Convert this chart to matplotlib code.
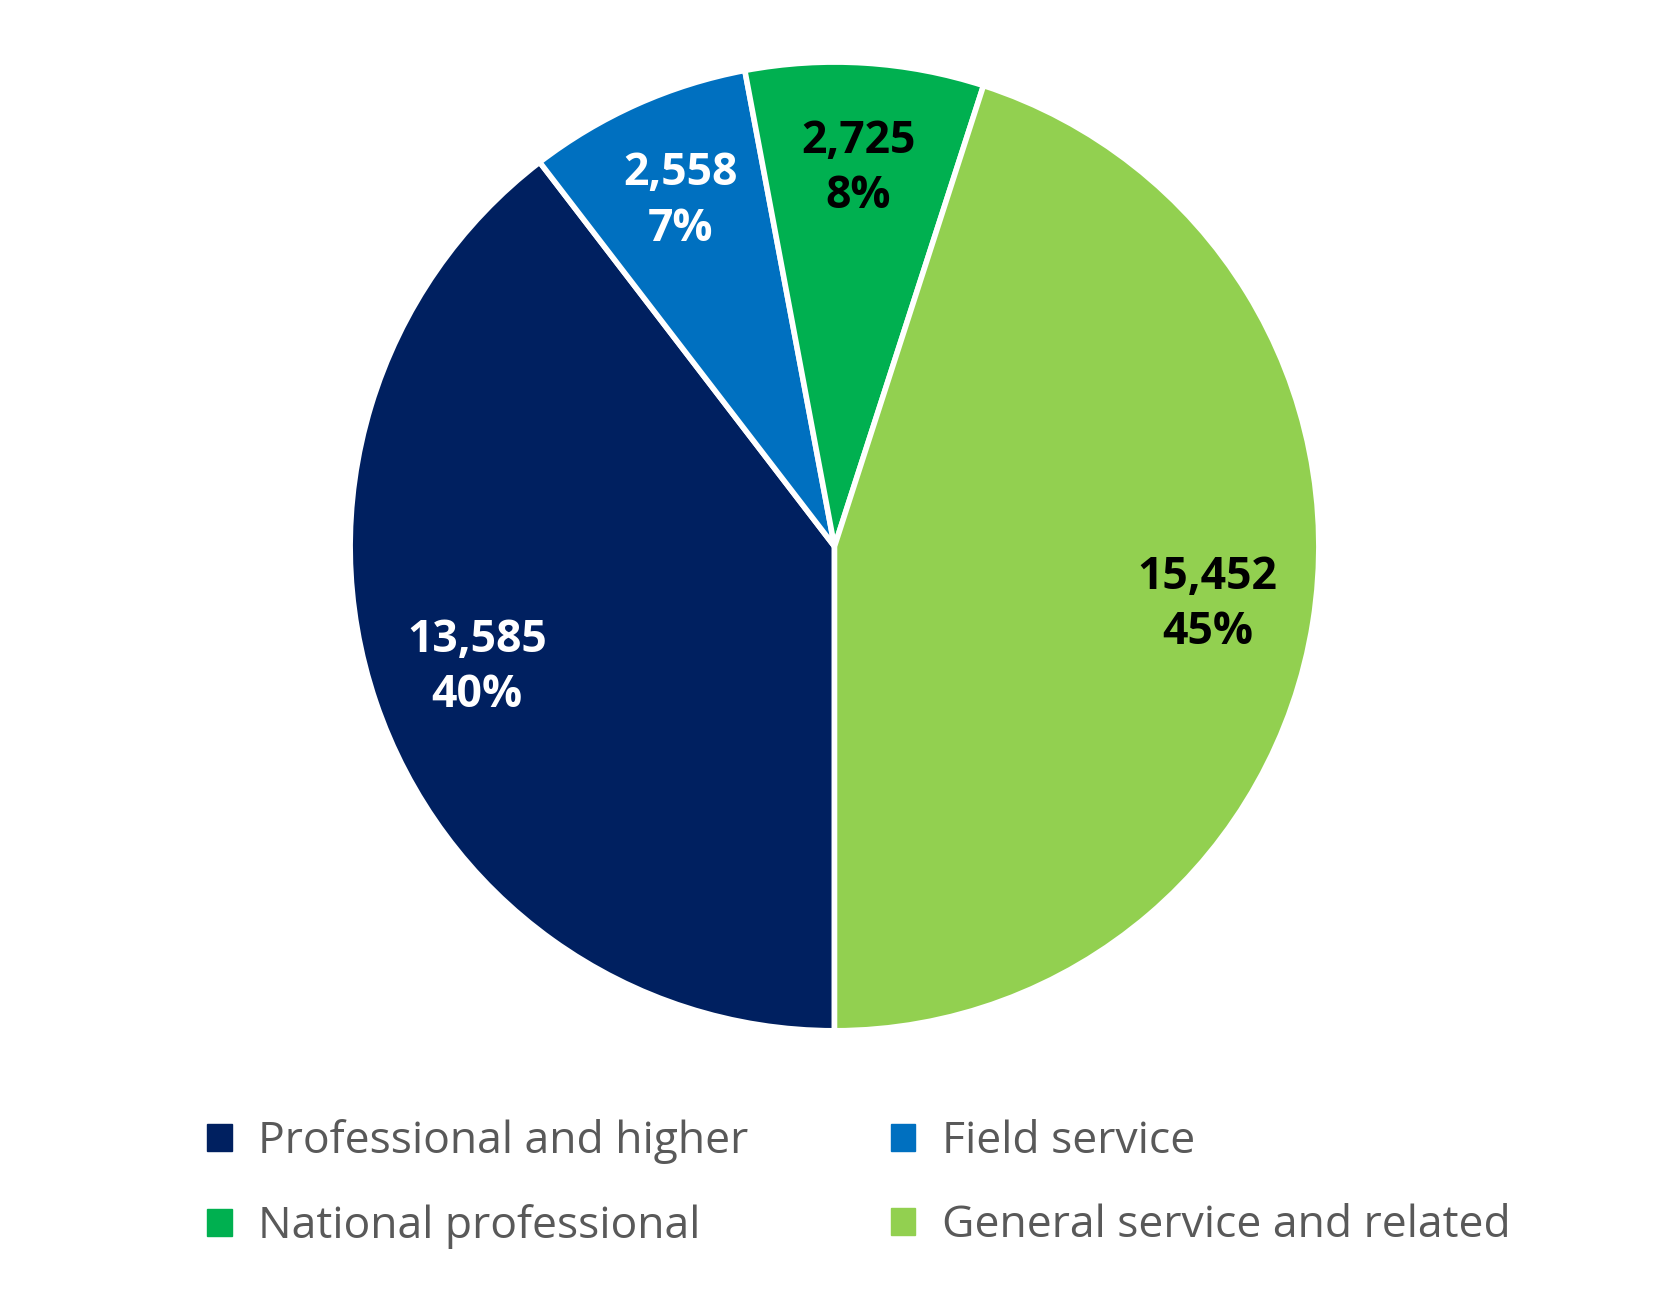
import matplotlib
matplotlib.use("Agg")
import matplotlib.pyplot as plt
import numpy as np
from matplotlib.patches import Patch

categories = ["Professional and higher", "Field service", "National professional", "General service and related"]
values = [13585, 2558, 2725, 15452]
percents = ["40%", "7%", "8%", "45%"]
colors = ["#002060", "#0070C0", "#00B050", "#92D050"]
text_colors = ["white", "white", "black", "black"]

plt.rcParams['font.family'] = ['Open Sans', 'DejaVu Sans']
fig = plt.figure(figsize=(16.68, 13.01), dpi=100)
ax = fig.add_axes([0.207, 0.204, 0.5866, 0.752])
wedges, _ = ax.pie(values, colors=colors, startangle=270, counterclock=False,
                   wedgeprops=dict(edgecolor="white", linewidth=4))
ax.set_xlim(-1.01, 1.01)
ax.set_ylim(-1.01, 1.01)
ax.set_aspect('equal')
for w, v, p, tc in zip(wedges, values, percents, text_colors):
    ang = np.deg2rad((w.theta1 + w.theta2) / 2)
    r = 0.78
    ax.text(r * np.cos(ang), r * np.sin(ang), f"{v:,}\n{p}", ha="center", va="center",
            color=tc, fontsize=32, fontweight="bold", linespacing=1.3)

order = [0, 2, 1, 3]
handles = [Patch(facecolor=colors[i], edgecolor=colors[i]) for i in order]
labels = [categories[i] for i in order]
fig.legend(handles, labels, loc="center", bbox_to_anchor=(0.515, 0.09), ncol=2,
           frameon=False, fontsize=32, labelcolor="#595959", handlelength=0.55,
           handleheight=0.55, columnspacing=3.2, labelspacing=0.9, handletextpad=0.6)
fig.savefig("out.png", dpi=100, facecolor="white")
